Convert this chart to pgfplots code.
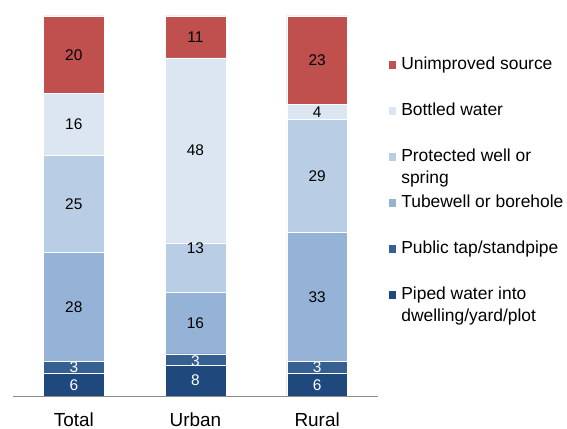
\documentclass[border=0pt]{standalone}
\usepackage{pgfplots}
\usepackage{pgfplotstable}
\pgfplotsset{compat=1.18}
\usepackage{fontspec}
\setmainfont{Liberation Sans}

\definecolor{unimp}{HTML}{C0504D}
\definecolor{bottled}{HTML}{DCE6F2}
\definecolor{protwell}{HTML}{B9CDE5}
\definecolor{tubewell}{HTML}{95B3D7}
\definecolor{pubtap}{HTML}{376092}
\definecolor{piped}{HTML}{1F497D}

% x: 0 Total, 1 Urban, 2 Rural; v: share (%); lab: printed label; dy: label offset (bp)
\pgfplotstableread{
x v lab dy
0 5.9 6 0
1 8.1 8 0
2 5.9 6 0
}\tpiped
\pgfplotstableread{
x v lab dy
0 3.2 3 0
1 3.0 3 -2
2 3.2 3 0
}\ttap
\pgfplotstableread{
x v lab dy
0 28.7 28 0
1 16.1 16 0
2 33.9 33 0
}\ttube
\pgfplotstableread{
x v lab dy
0 25.5 25 0
1 13.1 13 19.5
2 29.8 29 0
}\tprot
\pgfplotstableread{
x v lab dy
0 16.3 16 0
1 48.7 48 0
2 3.9 4 0
}\tbottled
\pgfplotstableread{
x v lab dy
0 20.4 20 0
1 11.0 11 0
2 23.3 23 0
}\tunimp

\newcommand{\twolines}[2]{\parbox[t]{170bp}{#1\\#2}}

\begin{document}
\begin{tikzpicture}
\useasboundingbox (0,0) rectangle (567bp,429bp);
\begin{axis}[
    at={(13bp,33bp)}, anchor=south west,
    scale only axis, width=365bp, height=380bp,
    ybar stacked, bar width=0.5,
    xmin=-0.5, xmax=2.5, ymin=0, ymax=100,
    enlargelimits=false,
    axis x line*=bottom, axis y line=none,
    x axis line style={draw=black!45, line width=0.8bp},
    xtick={0,1,2}, xticklabels={Total,Urban,Rural},
    major tick length=0pt,
    xticklabel style={font=\fontsize{19}{22}\selectfont, anchor=base, inner sep=0pt, yshift=-30bp},
    point meta=explicit symbolic,
    nodes near coords,
    visualization depends on={\thisrow{dy} \as \dy},
    every node near coord/.append style={font=\fontsize{15.5}{18}\selectfont, anchor=center, inner sep=0pt, yshift={\dy*1bp}},
    legend cell align=left,
    reverse legend,
    legend image code/.code={\fill[#1] (0bp,10bp) rectangle (8.7bp,18.7bp);},
    legend style={at={(1.0255,0.8947)}, anchor=north west, draw=none, fill=none,
        inner sep=0pt, row sep=0pt, column sep=4.7bp,
        nodes={inner sep=0pt, text height=13bp, text depth=33bp, font=\fontsize{17.5}{22}\selectfont}},
]
\addplot[fill=piped, draw=white, line width=0.4bp, every node near coord/.append style={text=white}]
    table[x=x, y=v, meta=lab] {\tpiped};
\addlegendentry{\twolines{Piped water into}{dwelling/yard/plot}}
\addplot[fill=pubtap, draw=white, line width=0.4bp, every node near coord/.append style={text=white}]
    table[x=x, y=v, meta=lab] {\ttap};
\addlegendentry{Public tap/standpipe}
\addplot[fill=tubewell, draw=white, line width=0.4bp]
    table[x=x, y=v, meta=lab] {\ttube};
\addlegendentry{Tubewell or borehole}
\addplot[fill=protwell, draw=white, line width=0.4bp]
    table[x=x, y=v, meta=lab] {\tprot};
\addlegendentry{\twolines{Protected well or}{spring}}
\addplot[fill=bottled, draw=white, line width=0.4bp]
    table[x=x, y=v, meta=lab] {\tbottled};
\addlegendentry{Bottled water}
\addplot[fill=unimp, draw=white, line width=0.4bp]
    table[x=x, y=v, meta=lab] {\tunimp};
\addlegendentry{Unimproved source}
\end{axis}
\end{tikzpicture}
\end{document}
